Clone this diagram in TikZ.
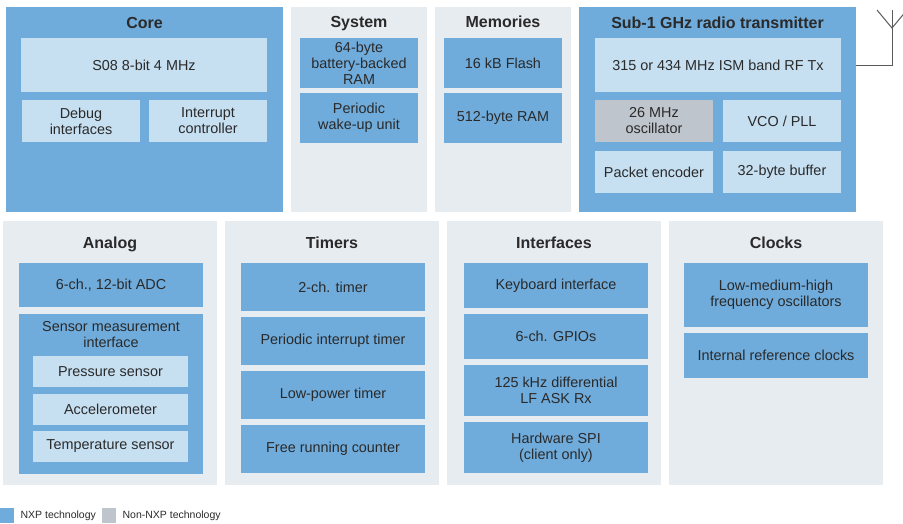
\documentclass[tikz,border=0pt]{standalone}
\usepackage{fontspec}
\setmainfont{Liberation Sans}
\usetikzlibrary{positioning}

\definecolor{nxpblue}{HTML}{6FABDB}
\definecolor{liteblue}{HTML}{C6DFF1}
\definecolor{panelgray}{HTML}{E7ECF0}
\definecolor{othergray}{HTML}{BFC5CC}
\definecolor{txtgray}{HTML}{2A2A2A}
\definecolor{antgray}{HTML}{5A5A5A}

\tikzset{
  box/.style={anchor=north west, inner sep=0pt, outer sep=0pt, align=center,
    text=txtgray, font=\fontsize{14.4}{16}\selectfont},
  panel/.style={box, fill=panelgray},
  nxp/.style={box, fill=nxpblue},
  lite/.style={box, fill=liteblue},
  other/.style={box, fill=othergray},
  ttl/.style={anchor=base, inner sep=0pt, text=txtgray,
    font=\bfseries\fontsize{16}{19}\selectfont},
  swatch/.style={anchor=north west, inner sep=0pt, minimum width=14pt, minimum height=15pt},
  legtext/.style={inner sep=0pt, text=txtgray, font=\fontsize{10.5}{12}\selectfont}
}

\begin{document}
\begin{tikzpicture}[x=1pt,y=-1pt]
\useasboundingbox (0,0) rectangle (903,523);

% top row
\node[nxp, minimum width=277pt, minimum height=205pt] (core) at (6,7) {};
\node[ttl] at (144.5,28) {Core};
\node[lite, minimum width=246pt, minimum height=54pt] (cpu) at (21,38) {S08 8-bit 4 MHz};
\node[lite, minimum width=118pt, minimum height=42pt] (dbg) at (22,100) {Debug\\interfaces};
\node[lite, minimum width=118pt, minimum height=42pt] (intc) at (149,100) {Interrupt\\controller};

\node[panel, minimum width=136pt, minimum height=205pt] (sys) at (291,7) {};
\node[ttl] at (359,27) {System};
\node[nxp, minimum width=118pt, minimum height=50pt] (bbram) at (300,38) {64-byte\\battery-backed\\RAM};
\node[nxp, minimum width=118pt, minimum height=50pt] (wkup) at (300,93) {Periodic\\wake-up unit};

\node[panel, minimum width=136pt, minimum height=205pt] (mem) at (435,7) {};
\node[ttl] at (503,27) {Memories};
\node[nxp, minimum width=118pt, minimum height=50pt] (flash) at (444,38) {16 kB Flash};
\node[nxp, minimum width=118pt, minimum height=50pt] (ram) at (444,93) {512-byte RAM};

\node[nxp, minimum width=277pt, minimum height=205pt] (radio) at (579,7) {};
\node[ttl] at (717.5,28) {Sub-1 GHz radio transmitter};
\node[lite, minimum width=246pt, minimum height=54pt] (rftx) at (595,38) {315 or 434 MHz ISM band RF Tx};
\node[other, minimum width=118pt, minimum height=42pt] (xosc) at (595,100) {26 MHz\\oscillator};
\node[lite, minimum width=118pt, minimum height=42pt] (vco) at (723,100) {VCO / PLL};
\node[lite, minimum width=118pt, minimum height=42pt] (enc) at (595,151) {Packet encoder};
\node[lite, minimum width=118pt, minimum height=42pt] (buf) at (723,151) {32-byte buffer};

% antenna
\coordinate (antfoot) at (892,65);
\coordinate (antjoin) at (892,28);
\coordinate (anttop) at (892,10);
\coordinate (antl) at (877,10);
\coordinate (antr) at (907,10);
\draw[antgray, line width=1pt] (radio.east |- rftx.center) -- (antfoot) -- (anttop);
\draw[antgray, line width=1pt] (antl) -- (antjoin) -- (antr);

% bottom row
\node[panel, minimum width=214pt, minimum height=264pt] (ana) at (3,221) {};
\node[ttl] at (110,248) {Analog};
\node[nxp, minimum width=184pt, minimum height=44pt] (adc) at (19,263) {6-ch., 12-bit ADC};
\node[nxp, minimum width=184pt, minimum height=160pt] (smi) at (19,314) {};
\node[box, anchor=north] at (111,321) {Sensor measurement\\interface};
\node[lite, minimum width=155pt, minimum height=31pt] (press) at (33,356) {Pressure sensor};
\node[lite, minimum width=155pt, minimum height=31pt] (accel) at (33,394) {Accelerometer};
\node[lite, minimum width=155pt, minimum height=31pt] (temp) at (33,431) {Temperature sensor};

\node[panel, minimum width=214pt, minimum height=264pt] (tim) at (225,221) {};
\node[ttl] at (332,248) {Timers};
\node[nxp, minimum width=184pt, minimum height=48pt] (tpm) at (241,263) {2-ch. timer};
\node[nxp, minimum width=184pt, minimum height=48pt] (pit) at (241,317) {Periodic interrupt timer};
\node[nxp, minimum width=184pt, minimum height=48pt] (lpt) at (241,371) {Low-power timer};
\node[nxp, minimum width=184pt, minimum height=48pt] (frc) at (241,425) {Free running counter};

\node[panel, minimum width=214pt, minimum height=264pt] (ifc) at (447,221) {};
\node[ttl] at (554,248) {Interfaces};
\node[nxp, minimum width=184pt, minimum height=45pt] (kbi) at (464,263) {Keyboard interface};
\node[nxp, minimum width=184pt, minimum height=45pt] (gpio) at (464,314) {6-ch. GPIOs};
\node[nxp, minimum width=184pt, minimum height=51pt] (lfrx) at (464,365) {125 kHz differential\\LF ASK Rx};
\node[nxp, minimum width=184pt, minimum height=51pt] (spi) at (464,422) {Hardware SPI\\(client only)};

\node[panel, minimum width=214pt, minimum height=264pt] (clk) at (669,221) {};
\node[ttl] at (776,248) {Clocks};
\node[nxp, minimum width=184pt, minimum height=64pt] (osc) at (684,263) {Low-medium-high\\frequency oscillators};
\node[nxp, minimum width=184pt, minimum height=45pt] (irc) at (684,333) {Internal reference clocks};

% legend
\node[swatch, fill=nxpblue] (keynxp) at (0,508) {};
\node[legtext, right=6pt of keynxp] {NXP technology};
\node[swatch, fill=othergray] (keyother) at (102,508) {};
\node[legtext, right=6pt of keyother] {Non-NXP technology};
\end{tikzpicture}
\end{document}
